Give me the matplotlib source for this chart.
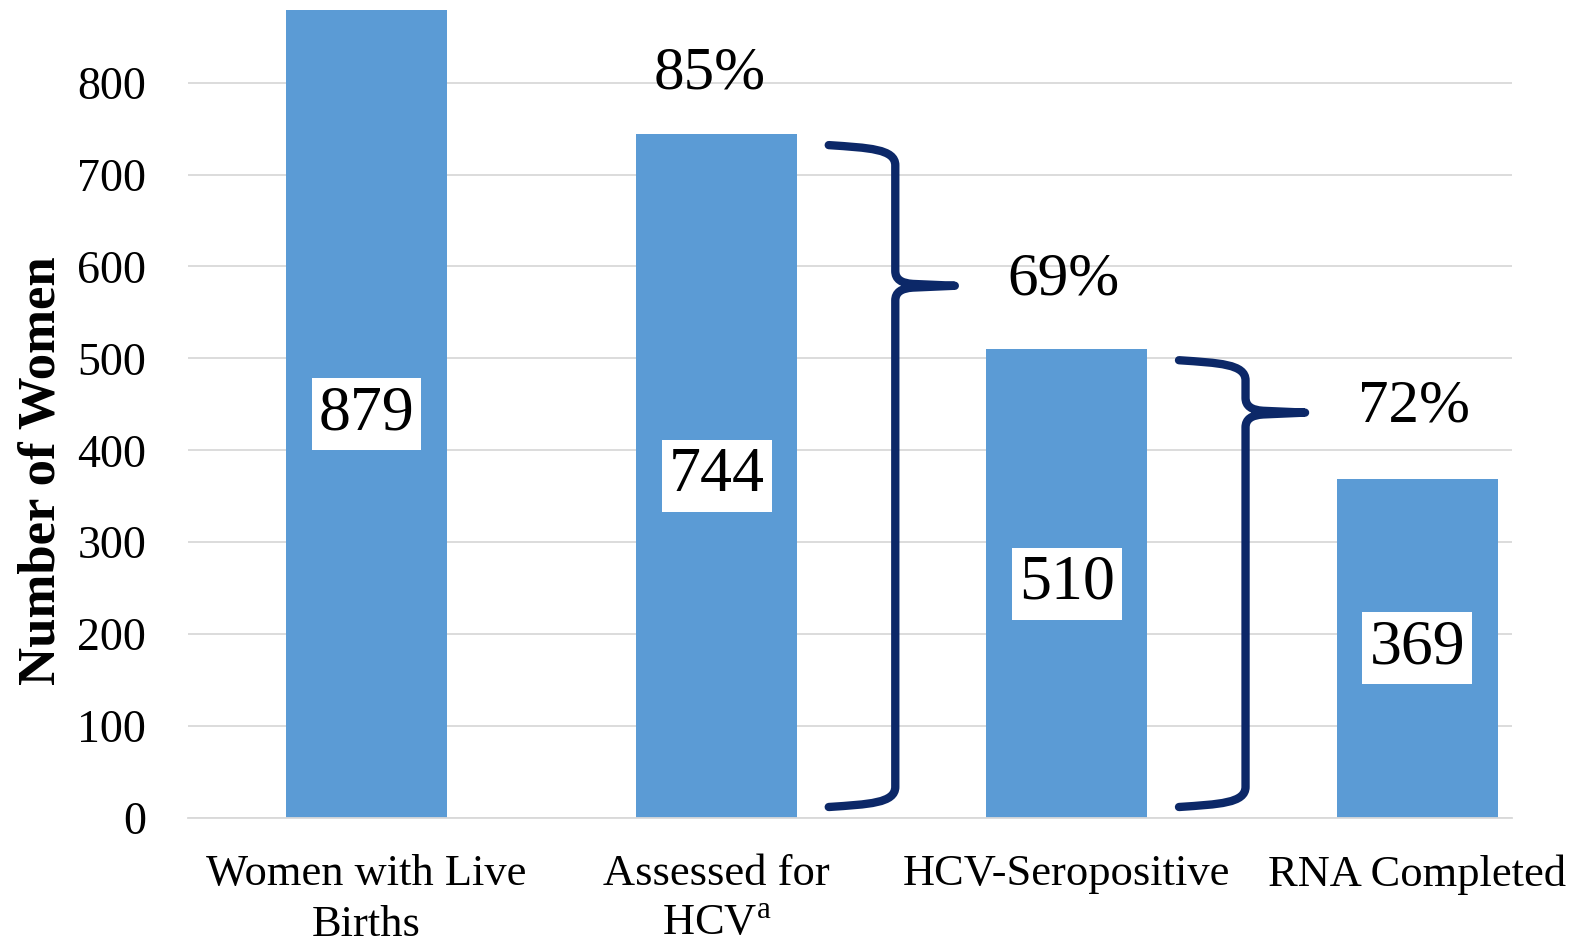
import matplotlib.pyplot as plt
from matplotlib.path import Path
from matplotlib.patches import PathPatch

# cascade of HCV testing among women with live births
etapas = ["Women with Live\nBirths", "Assessed for\nHCV$^{\\mathrm{a}}$",
          "HCV-Seropositive", "RNA Completed"]
conteos = [879, 744, 510, 369]
porcentajes = ["85%", "69%", "72%"]

# altura donde va cada porcentaje (y la punta de la llave)
altura_pct = [810, 585, 447]

plt.rcParams["font.family"] = ["Liberation Serif", "DejaVu Serif"]
plt.rcParams["mathtext.fontset"] = "custom"
plt.rcParams["mathtext.rm"] = "Liberation Serif"

AZUL = "#5B9BD5"
MARINO = "#0c2868"
GRIS = "#d9d9d9"


def llave(ax, i, y_sup, y_inf, y_punta):
    """Llave '}' entre la barra i y la siguiente."""
    x0 = i + 0.32
    xv = i + 0.51
    xt = i + 0.68
    xm = x0 + 0.6 * (xv - x0)
    verts = [
        (x0, y_sup),
        (xm, y_sup - 3), (xv, y_sup - 4), (xv, y_sup - 22),
        (xv, y_punta + 16),
        (xv, y_punta + 3), (xv + 0.05, y_punta + 2),
        (xt, y_punta),
        (xv + 0.05, y_punta - 2),
        (xv, y_punta - 3), (xv, y_punta - 16),
        (xv, y_inf + 22),
        (xv, y_inf + 4), (xm, y_inf + 3), (x0, y_inf),
    ]
    codigos = [Path.MOVETO,
               Path.CURVE4, Path.CURVE4, Path.CURVE4,
               Path.LINETO,
               Path.CURVE3, Path.CURVE3,
               Path.LINETO,
               Path.LINETO,
               Path.CURVE3, Path.CURVE3,
               Path.LINETO,
               Path.CURVE4, Path.CURVE4, Path.CURVE4]
    parche = PathPatch(Path(verts, codigos), fill=False, edgecolor=MARINO,
                       linewidth=6, capstyle="round", joinstyle="round",
                       clip_on=False, zorder=4)
    ax.add_patch(parche)


fig = plt.figure(figsize=(15.78, 9.49), dpi=100)
ax = fig.add_axes([0.119, 0.138, 0.839, 0.8515])

x = list(range(len(etapas)))
ax.bar(x, conteos, width=0.46, color=AZUL, zorder=2)

for i, c in enumerate(conteos):
    ax.text(i, c / 2, str(c), ha="center", va="center", fontsize=46,
            zorder=5, bbox=dict(facecolor="white", edgecolor="none", pad=5))

# porcentajes entre etapas
ax.text(0.98, altura_pct[0], porcentajes[0], ha="center", va="center",
        fontsize=44)
for k in (1, 2):
    ax.text(k + 0.99, altura_pct[k], porcentajes[k], ha="center",
            va="center", fontsize=44)
    llave(ax, k, conteos[k] - 12, 12, altura_pct[k] - 6)

ax.set_xlim(-0.51, 3.27)
ax.set_ylim(0, 879)
ax.set_yticks(range(0, 801, 100))
ax.set_xticks(x)
ax.set_xticklabels(etapas, fontsize=32, linespacing=1.35)
ax.tick_params(axis="y", labelsize=33, length=0, pad=30)
ax.tick_params(axis="x", length=0, pad=26)

ax.yaxis.grid(True, color=GRIS, linewidth=1.3)
ax.set_axisbelow(True)
for lado in ["top", "right", "left"]:
    ax.spines[lado].set_visible(False)
ax.spines["bottom"].set_color(GRIS)
ax.spines["bottom"].set_linewidth(1.3)

ax.set_ylabel("Number of Women", fontsize=38, fontweight="bold")
ax.yaxis.set_label_coords(-0.092, 0.43)

plt.savefig("out.png", dpi=100)
